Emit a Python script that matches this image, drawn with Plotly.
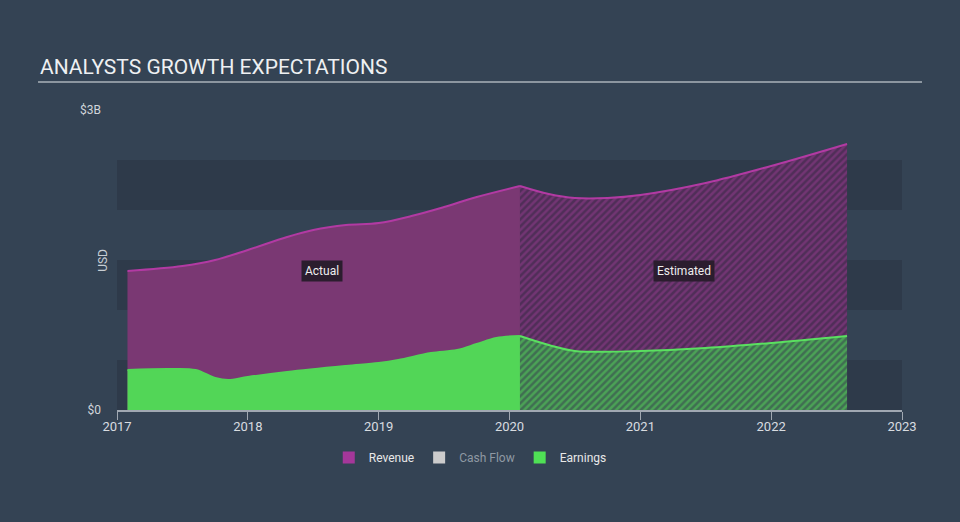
import plotly.graph_objects as go

# ---- data (values in $ billions, x in decimal years) ----
rev_actual_x = [2017.08, 2017.5, 2017.75, 2018.0, 2018.3, 2018.5, 2018.75, 2019.0, 2019.25, 2019.5, 2019.75, 2020.08]
rev_actual_y = [1.39, 1.44, 1.50, 1.60, 1.73, 1.80, 1.85, 1.87, 1.94, 2.03, 2.13, 2.24]
rev_est_x = [2020.08, 2020.3, 2020.5, 2020.75, 2021.0, 2021.5, 2022.0, 2022.58]
rev_est_y = [2.24, 2.16, 2.12, 2.12, 2.15, 2.27, 2.44, 2.66]

earn_actual_x = [2017.08, 2017.4, 2017.6, 2017.75, 2017.85, 2018.0, 2018.3, 2018.75, 2019.0, 2019.15, 2019.4, 2019.6, 2019.75, 2019.9, 2020.08]
earn_actual_y = [0.40, 0.41, 0.40, 0.32, 0.30, 0.33, 0.38, 0.44, 0.47, 0.50, 0.57, 0.60, 0.66, 0.72, 0.74]
earn_est_x = [2020.08, 2020.3, 2020.5, 2021.0, 2021.5, 2022.0, 2022.58]
earn_est_y = [0.74, 0.65, 0.59, 0.59, 0.62, 0.67, 0.74]

year_ticks = [2017, 2018, 2019, 2020, 2021, 2022, 2023]
y_ticks = [0, 3]
y_tick_text = ["$0", "$3B"]
bands = [(0, 0.5), (1, 1.5), (2, 2.5)]
legend_names = ["Revenue", "Cash Flow", "Earnings"]

REV_FILL = "#7a3873"
REV_LINE = "#b23aa3"
EARN_FILL = "#52d657"
EARN_LINE = "#5ae060"

fig = go.Figure()

fig.add_trace(go.Scatter(x=rev_actual_x, y=rev_actual_y, mode="lines", line=dict(color=REV_LINE, width=2, shape="spline"),
                         fill="tozeroy", fillcolor=REV_FILL, showlegend=False, hoverinfo="skip"))
fig.add_trace(go.Scatter(x=rev_est_x, y=rev_est_y, mode="lines", line=dict(color=REV_LINE, width=2, shape="spline"),
                         fill="tozeroy", fillcolor="#502e58",
                         fillpattern=dict(shape="/", fgcolor="#933c8e", bgcolor="#502e58", size=5, solidity=0.5),
                         showlegend=False, hoverinfo="skip"))
fig.add_trace(go.Scatter(x=earn_actual_x, y=earn_actual_y, mode="lines", line=dict(color=EARN_FILL, width=2, shape="spline"),
                         fill="tozeroy", fillcolor=EARN_FILL, showlegend=False, hoverinfo="skip"))
fig.add_trace(go.Scatter(x=earn_est_x, y=earn_est_y, mode="lines", line=dict(color=EARN_LINE, width=2, shape="spline"),
                         fill="tozeroy", fillcolor="#406e52",
                         fillpattern=dict(shape="/", fgcolor="#55d65a", bgcolor="#406e52", size=5, solidity=0.5),
                         showlegend=False, hoverinfo="skip"))

# legend entries
legend_styles = [("#a5379a", "#e8e8e8"), ("#cccccc", "#8f99a3"), ("#4fe055", "#e8e8e8")]
for name, (col, tcol) in zip(legend_names, legend_styles):
    fig.add_trace(go.Scatter(x=[None], y=[None], mode="markers",
                             name=f"<span style='color:{tcol}'>{name}</span>",
                             marker=dict(symbol="square", size=14, color=col)))

shapes = []
for lo, hi in bands:
    shapes.append(dict(type="rect", xref="paper", yref="y", x0=0, x1=1, y0=lo, y1=hi,
                       fillcolor="#2e3a4a", line=dict(width=0), layer="below"))
shapes.append(dict(type="line", xref="paper", yref="paper", x0=-0.1006, x1=1.0255, y0=1.0 + 28/300, y1=1.0 + 28/300,
                   line=dict(color="#aab2ba", width=1.5)))

annotations = [
    dict(text="ANALYSTS GROWTH EXPECTATIONS", xref="paper", yref="paper", x=-0.1006, y=1.0 + 29/300,
         xanchor="left", yanchor="bottom", showarrow=False, font=dict(size=21, color="#eef0f2", family="Roboto")),
    dict(text="USD", xref="paper", yref="paper", x=-0.018, y=0.5, textangle=-90, showarrow=False,
         xanchor="center", yanchor="middle", font=dict(size=12, color="#c8ced4", family="Roboto")),
    dict(text="Actual", x=2018.57, y=1.39, showarrow=False, bgcolor="#2b1d2e",
         font=dict(size=12, color="#eeeeee", family="Roboto"), borderpad=3),
    dict(text="Estimated", x=2021.33, y=1.39, showarrow=False, bgcolor="#2b1d2e",
         font=dict(size=12, color="#eeeeee", family="Roboto"), borderpad=3),
]

fig.update_layout(
    width=960, height=522,
    margin=dict(l=117, r=58, t=110, b=112),
    paper_bgcolor="#344354", plot_bgcolor="#344354",
    font=dict(family="Roboto", color="#d0d5da"),
    shapes=shapes, annotations=annotations,
    showlegend=True,
    legend=dict(orientation="h", x=0.45, y=-0.11, xanchor="center", yanchor="top",
                font=dict(size=12, color="#e8e8e8", family="Roboto"), itemsizing="constant"),
    xaxis=dict(range=[2017, 2023], tickvals=year_ticks, ticktext=[str(t) for t in year_ticks],
               showgrid=False, zeroline=False, showline=True, linecolor="#a0a8b2", linewidth=1.5,
               ticks="outside", ticklen=8, tickcolor="#a0a8b2", ticklabelstandoff=-4,
               tickfont=dict(size=13, color="#d8dce0")),
    yaxis=dict(range=[0, 3], tickvals=y_ticks, ticktext=y_tick_text, showgrid=False, zeroline=False,
               showline=False, ticks="", ticklabelstandoff=15, tickfont=dict(size=12, color="#d0d5da")),
)

fig.write_html("out.html", config={"displayModeBar": False},
               post_script="document.body.style.margin='0';document.body.style.padding='0';")
